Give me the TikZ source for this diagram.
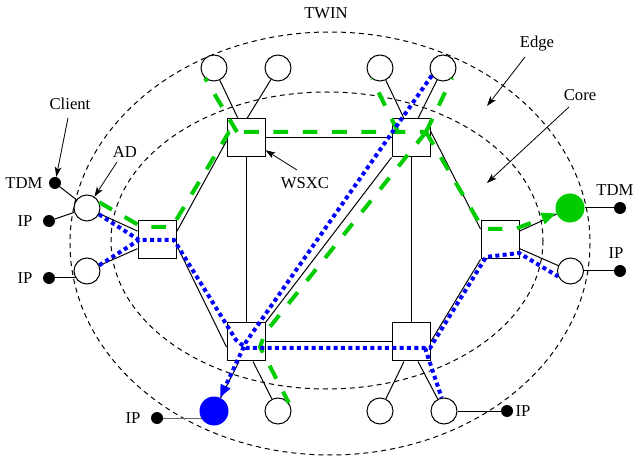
\documentclass[tikz,border=0pt]{standalone}
\usepackage{fontspec}
\setmainfont{Liberation Serif}
\usetikzlibrary{arrows.meta,calc}
\definecolor{tgreen}{RGB}{0,204,0}
\pgfdeclarelayer{background}
\pgfsetlayers{background,main}
\begin{document}
\begin{tikzpicture}[x=0.75pt,y=-0.75pt,
  lbl/.style={font=\fontsize{12.5}{15}\selectfont, inner sep=0pt, anchor=base},
  wsxc/.style={draw, fill=white, line width=0.75pt, minimum size=28.5pt, inner sep=0pt},
  port/.style={circle, draw, fill=white, line width=0.75pt, minimum size=19.5pt, inner sep=0pt},
  endpt/.style={circle, minimum size=21.75pt, inner sep=0pt},
  hostdot/.style={circle, fill=black, minimum size=9pt, inner sep=0pt},
  link/.style={line width=0.75pt},
  zone/.style={line width=0.75pt, dash pattern=on 3.75pt off 3pt},
  annot/.style={line width=0.6pt, -{Stealth[length=7.5pt,width=5pt,inset=2pt]}},
  gpath/.style={draw=tgreen, line width=3pt, dash pattern=on 11pt off 11pt},
  bpath/.style={draw=blue, line width=3pt, dash pattern=on 3pt off 2.5pt},
  gtip/.style={-{Triangle[length=11pt,width=8.5pt]}},
  btip/.style={-{Triangle[length=9.5pt,width=7.5pt]}},
]
\useasboundingbox (0,0) rectangle (635,459);

% cross-connects
\node[wsxc] (sqL)  at (157,240) {};
\node[wsxc] (sqTL) at (246,138) {};
\node[wsxc] (sqTR) at (411,138) {};
\node[wsxc] (sqR)  at (500,240) {};
\node[wsxc] (sqBL) at (246,342) {};
\node[wsxc] (sqBR) at (411,342) {};

% access devices
\node[port] (cT1) at (214,68) {};
\node[port] (cT2) at (278,68) {};
\node[port] (cT3) at (380,68) {};
\node[port] (cT4) at (443,68) {};
\node[port] (cL1) at (87,208) {};
\node[port] (cL2) at (87,271) {};
\node[endpt, fill=tgreen] (cR1) at (570,208) {};
\node[port] (cR2) at (570.5,271) {};
\node[endpt, fill=blue] (cB1) at (214,411) {};
\node[port] (cB2) at (278,411) {};
\node[port] (cB3) at (380,411) {};
\node[port] (cB4) at (444,411) {};

% clients
\node[hostdot] (dTDML) at (55,183) {};
\node[hostdot] (dIPL1) at (49,221) {};
\node[hostdot] (dIPL2) at (49,278) {};
\node[hostdot] (dTDMR) at (620,208) {};
\node[hostdot] (dIPR)  at (620,271) {};
\node[hostdot] (dIPB1) at (157,418) {};
\node[hostdot] (dIPB4) at (507,411) {};

% labels
\node[lbl] (twin)   at (326,18.5)  {TWIN};
\node[lbl] (edge)   at (537,48)    {Edge};
\node[lbl] (core)   at (580,100.5) {Core};
\node[lbl] (client) at (70,109.5)  {Client};
\node[lbl] (ad)     at (125,157.5) {AD};
\node[lbl] (tdmL)   at (24,188.5)  {TDM};
\node[lbl] (ipL1)   at (25,226.5)  {IP};
\node[lbl] (ipL2)   at (25,283.5)  {IP};
\node[lbl] (wsxcL)  at (305,188.5) {WSXC};
\node[lbl] (tdmR)   at (615,195.5) {TDM};
\node[lbl] (ipR)    at (616,258.5) {IP};
\node[lbl] (ipB1)   at (133,423.5) {IP};
\node[lbl] (ipB4)   at (523,416.5) {IP};

\begin{pgfonlayer}{background}
  % network regions
  \draw[zone] (330,243.5) ellipse (260 and 211.5);
  \draw[zone] (327,240.5) ellipse (216 and 148.5);
  % fibre links
  \draw[link] (dTDML) -- (cL1);
  \draw[link] (dIPL1) -- (cL1);
  \draw[link] (dIPL2) -- (dIPL2 -| cL2);
  \draw[link] (cL1) -- (sqL);
  \draw[link] (cL2) -- (sqL);
  \draw[link] ($(sqL.east)+(0,-8)$) -- ($(sqTL.west)+(0,3)$);
  \draw[link] ($(sqL.east)+(0,5)$) -- ($(sqBL.west)+(0,5)$);
  \draw[link] (sqTL) -- (sqTR);
  \draw[link] (sqTL) -- (sqBL);
  \draw[link] (sqTR) -- (sqBR);
  \draw[link] (sqBL) -- (sqBR);
  \draw[link] (sqTR.south west) -- (sqBL.north east);
  \draw[link] ($(sqTR.east)+(0,-7)$) -- ($(sqR.west)+(0,-11)$);
  \draw[link] (sqR.south west) -- (sqBR.east);
  \draw[link] (sqR) -- (cR1);
  \draw[link] (sqR) -- (cR2);
  \draw[link] (cR1) -- (dTDMR);
  \draw[link] (cR2) -- (dIPR);
  \draw[link] (cT1) -- ($(sqTL.north)+(-8,0)$);
  \draw[link] (cT2) -- ($(sqTL.north)+(1,0)$);
  \draw[link] (cT3) -- ($(sqTR.north)+(-7,0)$);
  \draw[link] (cT4) -- ($(sqTR.north)+(7,0)$);
  \draw[link] (cB1) -- ($(sqBL.south)+(-7,0)$);
  \draw[link] (cB2) -- ($(sqBL.south)+(7,0)$);
  \draw[link] (cB3) -- ($(sqBR.south)+(-7,0)$);
  \draw[link] (cB4) -- ($(sqBR.south)+(7,0)$);
  \draw[link, black!60] (dIPB1) -- (dIPB1 -| cB1);
  \draw[link] (cB4) -- (dIPB4);
\end{pgfonlayer}

% TDM lightpath tree
\draw[gpath] (cL1.25) -- (142,227) -- (172,227) -- (229,132) -- (426,132);
\draw[gpath] (237,132) -- (cT1.228);
\draw[gpath] (398,132) -- (cT3.234);
\draw[gpath] (426,132) -- (cT4.312);
\draw[gpath, gtip] (426,132) -- (483,229) -- (515,229) -- (cR1);
\draw[gpath] (426,132) -- (265,333) -- (260,347) -- (cB2.37);

% IP lightpath tree
\draw[bpath] (cL1.332) -- (139,240) -- (174,240) -- (236,340) -- (246,348)
  -- (430,348) -- (486,257) -- (519,253) -- (cR2.204);
\draw[bpath] (cL2.25) -- (139,240);
\draw[bpath] (425,348) -- (cB4.100);
\draw[bpath, btip] (cT4.214) -- (246,342) -- (cB1);

% callouts
\coordinate (clientTail) at (68,118);
\coordinate (adTail) at (117,162);
\coordinate (edgeTail) at (525,57);
\coordinate (edgeTip) at (487,106);
\coordinate (coreTail) at (569,107);
\coordinate (coreTip) at (487,183);
\coordinate (wsxcTail) at (297,170);
\draw[annot] (clientTail) -- (dTDML);
\draw[annot] (adTail) -- (cL1);
\draw[annot] (edgeTail) -- (edgeTip);
\draw[annot] (coreTail) -- (coreTip);
\draw[annot] (wsxcTail) -- (sqTL);
\end{tikzpicture}
\end{document}
